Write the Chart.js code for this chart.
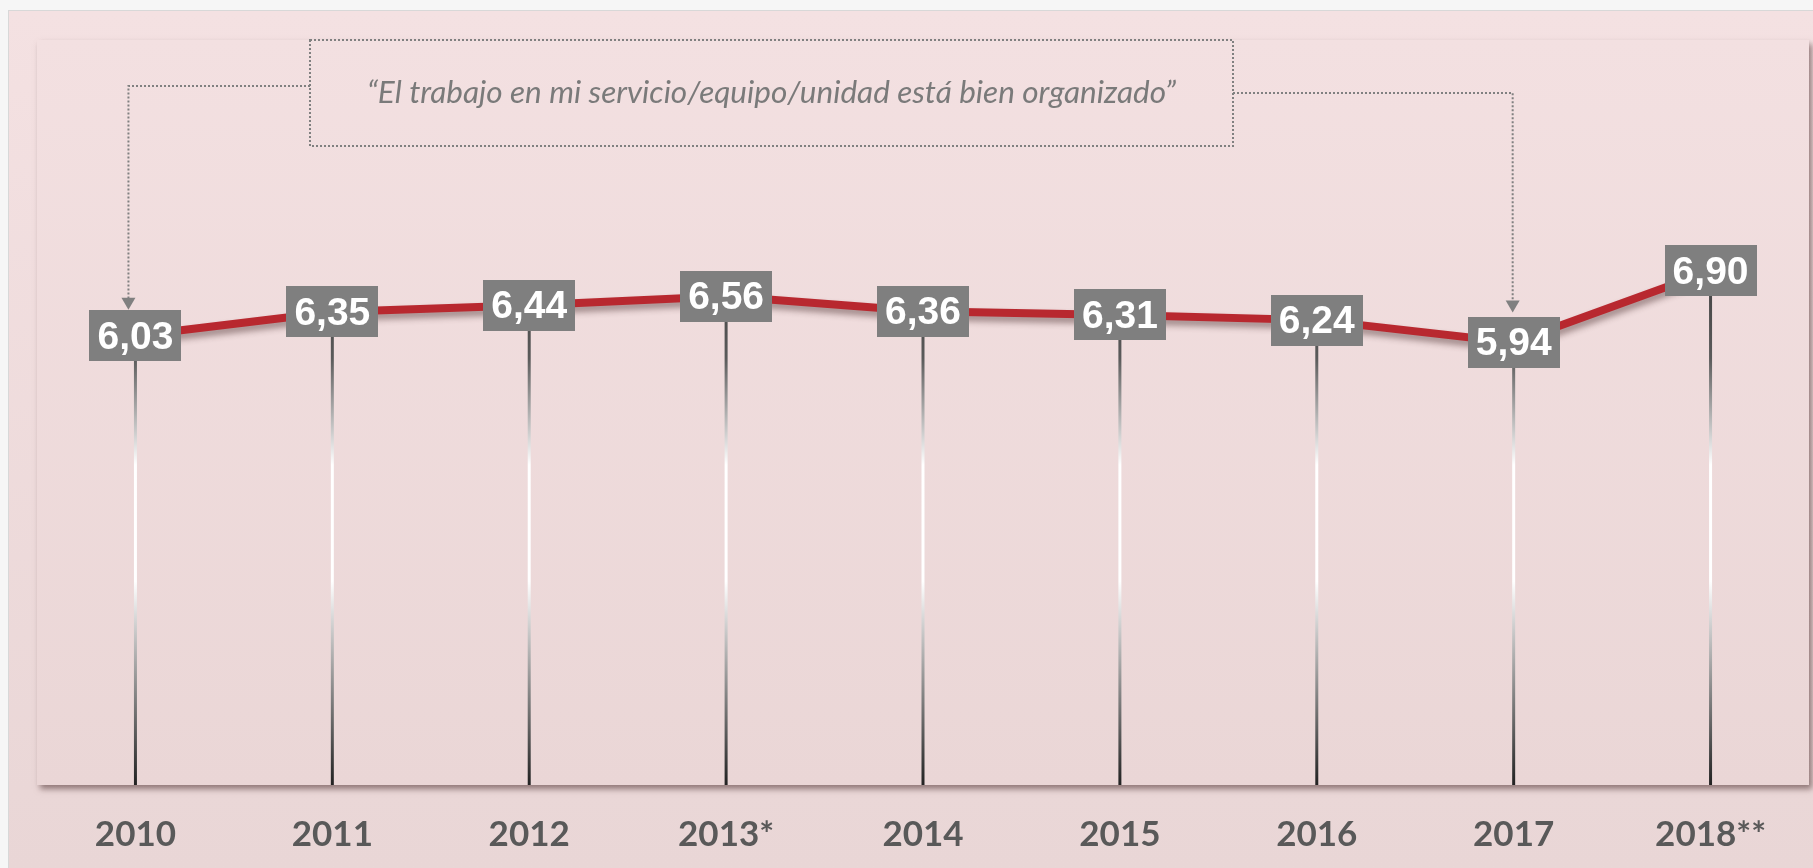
<!DOCTYPE html>
<html>
<head>
<meta charset="utf-8">
<script src="https://cdn.jsdelivr.net/npm/chart.js@4.4.1/dist/chart.umd.min.js"></script>
<style>
    html, body { margin:0; padding:0; width:1813px; height:868px; overflow:hidden; background:#f6f6f6; }
    .panel {
        position:absolute; left:8px; top:10px; right:0; bottom:0;
        border-left:1px solid #d8d8d8; border-top:1px solid #d8d8d8;
        background:linear-gradient(to bottom, #f4e1e2, #e9d6d6);
    }
    .wrap { position:absolute; left:0; top:0; width:1813px; height:868px; }
</style>
</head>
<body>
<div class="panel"></div>
<div class="wrap"><canvas id="chart"></canvas></div>
<script>
// Datos del gráfico
const years = ['2010', '2011', '2012', '2013*', '2014', '2015', '2016', '2017', '2018**'];
const scores = [6.03, 6.35, 6.44, 6.56, 6.36, 6.31, 6.24, 5.94, 6.90];
const yRange = [0, 10];
const quote = '\u201CEl trabajo en mi servicio/equipo/unidad está bien organizado\u201D';

const fmt = v => v.toFixed(2).replace('.', ',');

// Fondo del área del gráfico con sombra
const panelPlugin = {
    id: 'panel',
    beforeDraw(chart) {
        const { ctx, chartArea: a } = chart;
        ctx.save();
        ctx.shadowColor = 'rgba(70,40,40,0.55)';
        ctx.shadowBlur = 6;
        ctx.shadowOffsetX = 3;
        ctx.shadowOffsetY = 4;
        const g = ctx.createLinearGradient(0, a.top, 0, a.bottom);
        g.addColorStop(0, '#f3e0e1');
        g.addColorStop(1, '#ead6d6');
        ctx.fillStyle = g;
        ctx.fillRect(a.left, a.top, a.right - a.left, a.bottom - a.top);
        ctx.restore();
    }
};

// Líneas verticales desde cada punto hasta la base
const stemPlugin = {
    id: 'stems',
    beforeDatasetsDraw(chart) {
        const { ctx, chartArea: a } = chart;
        const meta = chart.getDatasetMeta(0);
        const g = ctx.createLinearGradient(0, 300, 0, a.bottom);
        g.addColorStop(0, '#4a4a4a');
        g.addColorStop(0.12, '#5a5a5a');
        g.addColorStop(0.34, '#ffffff');
        g.addColorStop(0.58, '#ffffff');
        g.addColorStop(1, '#222222');
        ctx.save();
        ctx.strokeStyle = g;
        ctx.lineWidth = 3;
        meta.data.forEach(p => {
            ctx.beginPath();
            ctx.moveTo(p.x, p.y);
            ctx.lineTo(p.x, a.bottom);
            ctx.stroke();
        });
        ctx.restore();
    },
    beforeDatasetDraw(chart) {
        const ctx = chart.ctx;
        ctx.save();
        ctx.shadowColor = 'rgba(60,30,30,0.45)';
        ctx.shadowBlur = 6;
        ctx.shadowOffsetX = 1;
        ctx.shadowOffsetY = 5;
    },
    afterDatasetDraw(chart) {
        chart.ctx.restore();
    }
};

// Etiquetas de valor en cajas grises
const labelPlugin = {
    id: 'valueLabels',
    afterDatasetsDraw(chart) {
        const { ctx } = chart;
        const meta = chart.getDatasetMeta(0);
        ctx.save();
        ctx.font = 'bold 39px "Liberation Sans", Arial, sans-serif';
        ctx.textAlign = 'center';
        ctx.textBaseline = 'middle';
        meta.data.forEach((p, i) => {
            const w = 92, h = 51;
            ctx.fillStyle = '#7f7f7f';
            ctx.fillRect(Math.round(p.x - w / 2), Math.round(p.y - h / 2), w, h);
            ctx.fillStyle = '#ffffff';
            ctx.fillText(fmt(scores[i]), p.x, p.y + 2);
        });
        ctx.restore();
    }
};

// Recuadro de la pregunta con conectores punteados
const quotePlugin = {
    id: 'quote',
    afterDraw(chart) {
        const { ctx, chartArea: a } = chart;
        const meta = chart.getDatasetMeta(0);
        const box = { l: 310, r: 1233, t: a.top, b: 146 };
        ctx.save();
        ctx.strokeStyle = '#808080';
        ctx.fillStyle = '#808080';
        ctx.lineWidth = 2;
        ctx.setLineDash([2, 2]);
        ctx.strokeRect(box.l, box.t, box.r - box.l, box.b - box.t);

        const p0 = meta.data[0], p7 = meta.data[7];
        const lx = p0.x - 7, ltip = p0.y - 26;
        const rx = p7.x - 1, rtip = p7.y - 30;

        ctx.beginPath();
        ctx.moveTo(box.l, 86);
        ctx.lineTo(lx, 86);
        ctx.lineTo(lx, ltip - 10);
        ctx.moveTo(box.r, 93);
        ctx.lineTo(rx, 93);
        ctx.lineTo(rx, rtip - 10);
        ctx.stroke();

        ctx.setLineDash([]);
        [[lx, ltip], [rx, rtip]].forEach(([x, y]) => {
            ctx.beginPath();
            ctx.moveTo(x - 7, y - 12);
            ctx.lineTo(x + 7, y - 12);
            ctx.lineTo(x, y);
            ctx.closePath();
            ctx.fill();
        });

        ctx.font = 'italic 31.5px Lato, "Open Sans", sans-serif';
        ctx.fillStyle = '#7a7a7a';
        ctx.textAlign = 'center';
        ctx.textBaseline = 'middle';
        ctx.fillText(quote, (box.l + box.r) / 2, 93);
        ctx.restore();
    }
};

new Chart(document.getElementById('chart'), {
    type: 'line',
    data: {
        labels: years,
        datasets: [{
            data: scores,
            borderColor: '#b8282f',
            borderWidth: 8,
            pointRadius: 0,
            tension: 0,
            fill: false
        }]
    },
    options: {
        responsive: true,
        maintainAspectRatio: false,
        animation: false,
        layout: { padding: { left: 37, right: 4, top: 40, bottom: 0 } },
        plugins: { legend: { display: false }, tooltip: { enabled: false } },
        scales: {
            x: {
                offset: true,
                grid: { display: false, drawTicks: false },
                border: { display: false },
                ticks: {
                    color: '#595959',
                    padding: 29,
                    font: { family: 'Lato', weight: 'bold', size: 35 }
                },
                afterFit(scale) { scale.height = 83; }
            },
            y: {
                display: false,
                min: yRange[0],
                max: yRange[1]
            }
        }
    },
    plugins: [panelPlugin, stemPlugin, labelPlugin, quotePlugin]
});
</script>
</body>
</html>
